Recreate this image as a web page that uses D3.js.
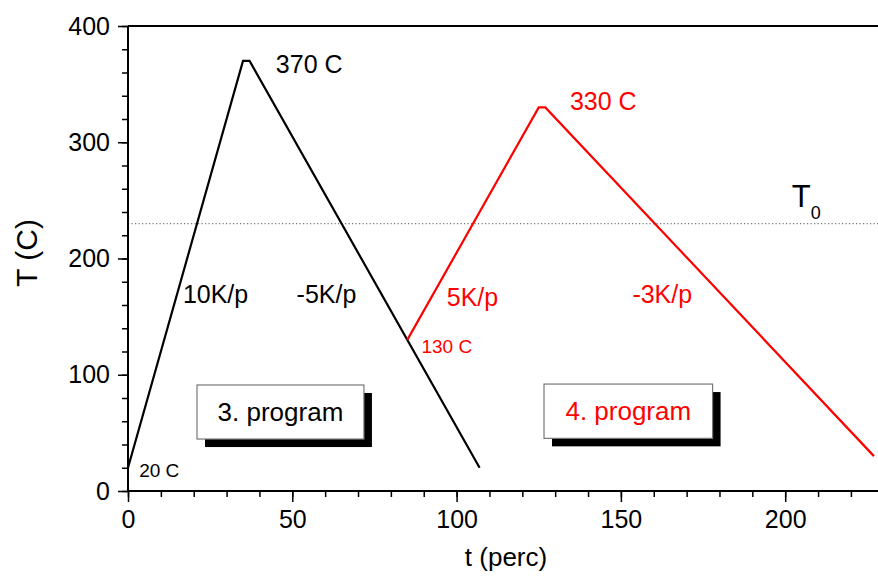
<!DOCTYPE html>
<html>
<head>
<meta charset="utf-8">
<script src="https://cdn.jsdelivr.net/npm/d3@7"></script>
<style>
  html, body { margin: 0; padding: 0; background: #fff; }
  svg { display: block; font-family: "Liberation Sans", Arial, Helvetica, sans-serif; }
</style>
</head>
<body>
<svg id="chart" width="878" height="579"></svg>
<script>
// Temperature programs: time in "perc", temperature in C
const prog3Time = [0, 35, 37, 107];
const prog3Temp = [20, 370, 370, 20];
const prog4Time = [85, 125, 127, 227];
const prog4Temp = [130, 330, 330, 30];
const t0Temp = 230;

const xMajorTicks = [0, 50, 100, 150, 200];
const xMinorTicks = d3.range(0, 230, 10);
const yMajorTicks = [0, 100, 200, 300, 400];
const yMinorTicks = d3.range(0, 401, 20);

// Text annotations, anchored in data units
const blackLabels = [
  { text: "370 C", t: 45.0, T: 359.6, size: 25 },
  { text: "10K/p", t: 16.7, T: 161.7, size: 25 },
  { text: "-5K/p", t: 51.3, T: 161.7, size: 25 },
  { text: "20 C", t: 3.4, T: 12.3, size: 19 }
];
const redLabels = [
  { text: "330 C", t: 134.5, T: 327.7, size: 25 },
  { text: "5K/p", t: 97.0, T: 159.1, size: 25 },
  { text: "-3K/p", t: 153.5, T: 162.0, size: 25 },
  { text: "130 C", t: 89.3, T: 118.7, size: 19 }
];
const programBoxes = [
  { text: "3. program", t0: 21.0, t1: 71.8, T0: 91.2, T1: 44.7, color: "#000" },
  { text: "4. program", t0: 126.6, t1: 177.9, T0: 92.0, T1: 45.3, color: "#ff0000" }
];

const svg = d3.select("#chart");
const W = 878, H = 579;
const plotLeft = 128, plotTop = 26, plotBottom = 491;

const x = d3.scaleLinear().domain([0, 230]).range([plotLeft, plotLeft + 230 * (164.3 / 50)]);
const y = d3.scaleLinear().domain([0, 400]).range([plotBottom, plotTop]);

// T0 reference line
svg.append("line")
  .attr("x1", x(0)).attr("x2", W)
  .attr("y1", y(t0Temp)).attr("y2", y(t0Temp))
  .attr("stroke", "#777").attr("stroke-width", 1.2)
  .attr("stroke-dasharray", "1.2,2.3");

// Top frame line
svg.append("line")
  .attr("x1", x(0)).attr("x2", W)
  .attr("y1", y(400)).attr("y2", y(400))
  .attr("stroke", "#000").attr("stroke-width", 2);

// Axes: minor ticks first, then labelled major ticks
const gxMinor = svg.append("g").attr("transform", `translate(0,${plotBottom})`)
  .call(d3.axisBottom(x).tickValues(xMinorTicks).tickSize(6).tickFormat(""));
const gx = svg.append("g").attr("transform", `translate(0,${plotBottom})`)
  .call(d3.axisBottom(x).tickValues(xMajorTicks).tickSize(11).tickPadding(8).tickFormat(d3.format("d")));
const gyMinor = svg.append("g").attr("transform", `translate(${plotLeft},0)`)
  .call(d3.axisLeft(y).tickValues(yMinorTicks).tickSize(6).tickFormat(""));
const gy = svg.append("g").attr("transform", `translate(${plotLeft},0)`)
  .call(d3.axisLeft(y).tickValues(yMajorTicks).tickSize(10).tickPadding(8).tickFormat(d3.format("d")));

[gxMinor, gx, gyMinor, gy].forEach(g => {
  g.select(".domain").attr("stroke", "#000").attr("stroke-width", 2);
  g.selectAll(".tick line").attr("stroke", "#000").attr("stroke-width", 1.5);
  g.selectAll(".tick text").attr("fill", "#000")
    .style("font-family", "'Liberation Sans', Arial, sans-serif").style("font-size", "25px");
});
gxMinor.select(".domain").attr("d", `M${x(0)},0H${W}`);
gx.select(".domain").attr("d", `M${x(0)},0H${W}`);
gy.select(".domain").attr("d", `M0,${y(0)}V${y(400)}`);
gyMinor.select(".domain").attr("d", `M0,${y(0)}V${y(400)}`);

// Axis titles
svg.append("text")
  .attr("x", 506).attr("y", 566)
  .attr("text-anchor", "middle").style("font-size", "26px")
  .text("t (perc)");
svg.append("text")
  .attr("transform", `translate(37,253) rotate(-90)`)
  .attr("text-anchor", "middle").style("font-size", "30px")
  .text("T (C)");

// Program curves
const line = d3.line().x(d => x(d[0])).y(d => y(d[1]));
const prog3 = prog3Time.map((t, i) => [t, prog3Temp[i]]);
const prog4 = prog4Time.map((t, i) => [t, prog4Temp[i]]);

svg.append("path").datum(prog3).attr("d", line)
  .attr("fill", "none").attr("stroke", "#000").attr("stroke-width", 2.2)
  .attr("stroke-linejoin", "miter");
svg.append("path").datum(prog4).attr("d", line)
  .attr("fill", "none").attr("stroke", "#ff0000").attr("stroke-width", 2.2)
  .attr("stroke-linejoin", "miter");

// Annotations
function addLabels(list, color) {
  svg.selectAll(null).data(list).enter().append("text")
    .attr("x", d => x(d.t)).attr("y", d => y(d.T))
    .attr("fill", color)
    .style("font-size", d => d.size + "px")
    .text(d => d.text);
}
addLabels(blackLabels, "#000");
addLabels(redLabels, "#ff0000");

// T0 label with subscript
const t0Label = svg.append("text")
  .attr("x", x(202)).attr("y", y(244.6))
  .style("font-size", "31px").attr("fill", "#000");
t0Label.append("tspan").text("T");
t0Label.append("tspan").attr("dy", 12).style("font-size", "18px").text("0");

// Program boxes with drop shadow
const boxes = svg.selectAll(null).data(programBoxes).enter().append("g");
boxes.append("rect")
  .attr("x", d => x(d.t0) + 8).attr("y", d => y(d.T0) + 8)
  .attr("width", d => x(d.t1) - x(d.t0)).attr("height", d => y(d.T1) - y(d.T0))
  .attr("fill", "#000");
boxes.append("rect")
  .attr("x", d => x(d.t0)).attr("y", d => y(d.T0))
  .attr("width", d => x(d.t1) - x(d.t0)).attr("height", d => y(d.T1) - y(d.T0))
  .attr("fill", "#fff").attr("stroke", "#777").attr("stroke-width", 1.2);
boxes.append("text")
  .attr("x", d => (x(d.t0) + x(d.t1)) / 2)
  .attr("y", d => (y(d.T0) + y(d.T1)) / 2 + 9)
  .attr("text-anchor", "middle")
  .attr("fill", d => d.color)
  .style("font-size", "26px")
  .text(d => d.text);
</script>
</body>
</html>
